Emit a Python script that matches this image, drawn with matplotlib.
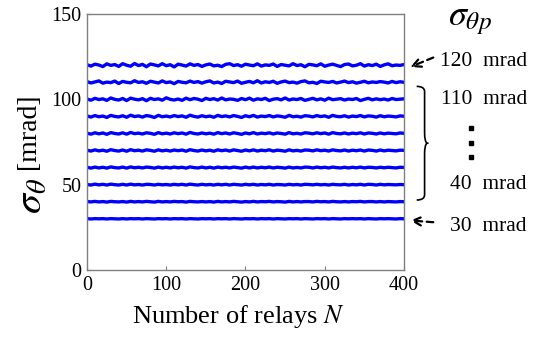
import numpy as np
import matplotlib
matplotlib.use("Agg")
import matplotlib.pyplot as plt
from matplotlib.path import Path
from matplotlib.patches import PathPatch

plt.rcParams['font.family'] = ['Liberation Serif', 'DejaVu Serif']
plt.rcParams['mathtext.fontset'] = 'stix'

# sigma_theta values (mrad) vs number of relays, one series per sigma_theta_p
s120 = [120.3,119.5,120.6,120.1,119.2,120.8,119.9,120.4,119.3,120.9,120.0,119.4,121.0,119.8,120.5,119.1,120.7,120.2,119.6,120.9,119.7,120.3,119.0,120.6,120.1,119.5,120.8,119.9,120.4,119.3,120.2,120.7,119.6,120.0,119.2,120.5,120.9,119.8,120.3,119.4,120.6,120.1,119.7,120.8,119.5,120.2,119.9,120.7,119.3,120.4,120.0,119.6,120.9,119.8,120.3,119.1,120.5,120.2,119.7,120.8,119.4,120.1,120.6,119.9,119.2,120.4,120.7,119.6,120.0,120.9,119.5,120.3,119.8,120.6,119.3,120.2,120.8,119.7,120.1,119.9,120.4]
s110 = [110.4,109.6,110.2,110.8,109.5,110.1,109.8,110.7,109.3,110.5,110.0,109.7,110.9,109.9,110.3,109.4,110.6,110.1,109.6,110.8,109.8,110.2,109.2,110.5,110.0,109.7,110.7,109.9,110.4,109.5,110.3,110.8,109.6,110.1,109.3,110.6,110.2,109.8,110.7,109.4,110.0,110.5,109.7,110.9,109.6,110.3,109.9,110.6,109.4,110.2,110.7,109.8,110.1,109.5,110.4,110.8,109.7,110.0,109.3,110.6,110.2,109.9,110.5,109.6,110.1,110.7,109.8,110.3,109.5,110.0,110.6,109.7,110.2,109.9,110.4,110.1,109.6,110.5,109.8,110.3,110.0]
s100 = [100.2,99.5,100.6,99.9,100.3,99.4,100.8,100.0,99.6,100.5,99.3,100.7,100.1,99.7,100.4,99.2,100.6,99.9,100.3,99.5,100.9,100.0,99.6,100.2,99.4,100.7,99.8,100.5,100.1,99.3,100.6,99.9,100.4,99.6,100.8,99.7,100.2,100.0,99.4,100.5,99.8,100.7,99.5,100.3,99.9,100.6,99.3,100.1,100.4,99.7,100.8,99.6,100.2,99.9,100.5,99.4,100.0,100.6,99.7,100.3,99.5,100.7,99.8,100.1,100.4,99.6,100.2,99.9,100.5,99.3,100.0,100.6,99.7,100.3,99.8,100.2,99.6,100.5,99.9,100.1,100.3]
s90 = [90.3,89.6,90.5,89.8,90.2,89.4,90.6,90.0,89.7,90.4,89.5,90.7,89.9,90.3,89.6,90.5,90.1,89.4,90.6,89.8,90.2,89.7,90.5,89.9,90.3,89.5,90.7,90.0,89.6,90.4,89.8,90.2,89.5,90.6,89.9,90.3,89.7,90.5,90.0,89.4,90.4,89.8,90.6,89.6,90.2,89.9,90.5,89.7,90.3,90.0,89.5,90.6,89.8,90.1,89.6,90.4,90.2,89.7,90.5,89.9,90.3,89.5,90.6,90.0,89.8,90.4,89.6,90.2,89.9,90.5,89.7,90.3,90.1,89.6,90.4,89.8,90.2,90.0,89.7,90.3,90.1]
s80 = [80.2,79.6,80.4,79.8,80.3,79.5,80.5,80.0,79.7,80.4,79.6,80.6,79.9,80.2,79.7,80.4,80.1,79.5,80.5,79.8,80.2,79.7,80.4,79.9,80.3,79.6,80.6,80.0,79.7,80.3,79.8,80.2,79.6,80.5,79.9,80.3,79.7,80.4,80.0,79.5,80.3,79.8,80.5,79.7,80.2,79.9,80.4,79.7,80.3,80.0,79.6,80.5,79.8,80.1,79.7,80.4,80.2,79.8,80.4,79.9,80.3,79.6,80.5,80.0,79.8,80.3,79.7,80.2,79.9,80.4,79.7,80.3,80.1,79.7,80.3,79.8,80.2,80.0,79.8,80.3,80.1]
s70 = [70.2,69.7,70.4,69.8,70.2,69.6,70.5,70.0,69.7,70.3,69.6,70.5,69.9,70.2,69.7,70.4,70.1,69.6,70.4,69.8,70.2,69.7,70.3,69.9,70.3,69.6,70.5,70.0,69.7,70.3,69.8,70.2,69.6,70.4,69.9,70.3,69.7,70.4,70.0,69.6,70.3,69.8,70.4,69.7,70.2,69.9,70.4,69.7,70.2,70.0,69.6,70.4,69.8,70.1,69.7,70.3,70.2,69.8,70.4,69.9,70.2,69.7,70.4,70.0,69.8,70.3,69.7,70.2,69.9,70.3,69.7,70.3,70.1,69.7,70.3,69.8,70.2,70.0,69.8,70.2,70.1]
s60 = [60.2,59.7,60.3,59.8,60.2,59.7,60.4,60.0,59.8,60.3,59.7,60.4,59.9,60.2,59.8,60.3,60.1,59.7,60.3,59.8,60.2,59.8,60.3,59.9,60.2,59.7,60.4,60.0,59.8,60.3,59.8,60.2,59.7,60.3,59.9,60.2,59.8,60.3,60.0,59.7,60.3,59.8,60.3,59.8,60.2,59.9,60.3,59.8,60.2,60.0,59.7,60.3,59.8,60.1,59.8,60.3,60.2,59.8,60.3,59.9,60.2,59.8,60.3,60.0,59.8,60.2,59.8,60.2,59.9,60.3,59.8,60.2,60.1,59.8,60.2,59.9,60.2,60.0,59.8,60.2,60.1]
s50 = [50.1,49.8,50.3,49.9,50.2,49.8,50.3,50.0,49.8,50.2,49.8,50.3,49.9,50.1,49.8,50.2,50.1,49.8,50.2,49.9,50.1,49.8,50.2,49.9,50.2,49.8,50.3,50.0,49.8,50.2,49.9,50.1,49.8,50.2,49.9,50.2,49.8,50.2,50.0,49.8,50.2,49.9,50.2,49.8,50.1,49.9,50.2,49.8,50.1,50.0,49.8,50.2,49.9,50.1,49.8,50.2,50.1,49.9,50.2,49.9,50.1,49.8,50.2,50.0,49.9,50.2,49.8,50.1,49.9,50.2,49.8,50.2,50.1,49.8,50.2,49.9,50.1,50.0,49.9,50.1,50.0]
s40 = [40.1,39.9,40.2,39.9,40.1,39.8,40.2,40.0,39.9,40.1,39.8,40.2,39.9,40.1,39.9,40.2,40.0,39.8,40.2,39.9,40.1,39.9,40.2,40.0,40.1,39.8,40.2,40.0,39.9,40.1,39.9,40.1,39.8,40.2,39.9,40.1,39.9,40.2,40.0,39.8,40.1,39.9,40.2,39.9,40.1,40.0,40.2,39.9,40.1,40.0,39.8,40.2,39.9,40.1,39.9,40.1,40.1,39.9,40.2,40.0,40.1,39.9,40.2,40.0,39.9,40.1,39.9,40.1,40.0,40.2,39.9,40.1,40.1,39.9,40.1,39.9,40.1,40.0,39.9,40.1,40.0]
s30 = [30.1,29.9,30.1,30.0,30.1,29.9,30.1,30.0,29.9,30.1,29.9,30.1,30.0,30.1,29.9,30.1,30.0,29.9,30.1,30.0,30.1,29.9,30.1,30.0,30.1,29.9,30.1,30.0,29.9,30.1,30.0,30.1,29.9,30.1,30.0,30.1,29.9,30.1,30.0,29.9,30.1,30.0,30.1,29.9,30.1,30.0,30.1,29.9,30.1,30.0,29.9,30.1,30.0,30.1,29.9,30.1,30.0,29.9,30.1,30.0,30.1,29.9,30.1,30.0,29.9,30.1,30.0,30.1,30.0,30.1,29.9,30.1,30.0,29.9,30.1,30.0,30.1,30.0,29.9,30.1,30.0]
series = [s120, s110, s100, s90, s80, s70, s60, s50, s40, s30]

x_ticks = [0, 100, 200, 300, 400]
y_ticks = [0, 50, 100, 150]
right_labels = ['120  mrad', '110  mrad', '40  mrad', '30  mrad']
right_levels = [120, 110, 40, 30]

fig = plt.figure(figsize=(5.38, 3.41), dpi=100)
ax = fig.add_axes([0.1617, 0.2082, 0.5892, 0.7507])

for s in series:
    xs = np.linspace(0, 400, len(s))
    ax.plot(xs, s, color='#0000ff', lw=2.4, solid_joinstyle='round')

ax.set_xlim(0, 400)
ax.set_ylim(0, 150)
ax.set_xticks(x_ticks)
ax.set_yticks(y_ticks)
ax.tick_params(direction='in', length=3, width=0.8, color='#808080', labelsize=14.5)
ax.tick_params(axis='x', pad=4)
ax.tick_params(axis='y', pad=4)
for sp in ax.spines.values():
    sp.set_color('#808080')
    sp.set_linewidth(1.0)

ax.set_xlabel('Number of relays $\\mathit{N}$', fontsize=19)
ax.xaxis.set_label_coords(0.476, -0.13)

# y label in two parts
fig.text(0.053, 0.616, '[mrad]', rotation=90, fontsize=20, ha='center', va='center')
fig.text(0.060, 0.425, '$\\sigma_\\theta$', rotation=90, fontsize=29, ha='center', va='center')

# right header
ax.text(1.14, 146, '$\\sigma_{\\theta p}$', transform=ax.get_yaxis_transform(), fontsize=26,
        ha='left', va='center', clip_on=False)

label_y = [122.4, 100, 50, 25.3]
for lbl, yy in zip(right_labels, label_y):
    ax.text(555, yy, lbl, fontsize=15.5, ha='right', va='center', clip_on=False)

# arrows for 120 and 30
for lvl, ty in [(120, 123.5), (30, 27)]:
    ax.annotate('', xy=(408, lvl - 1.0), xytext=(437, ty + 1.0),
                arrowprops=dict(arrowstyle='->', color='black', lw=1.6, linestyle=(0, (3, 2)),
                                mutation_scale=15, shrinkA=0, shrinkB=0),
                annotation_clip=False)

# curly brace spanning 110 .. 40
xb0, xb1 = 416, 429
ytop, ybot = 107.6, 41.0
ymid = (ytop + ybot) / 2
verts = [(xb0, ytop), (xb1 - 3, ytop), (xb1 - 3, ytop - 3), (xb1 - 3, ymid + 6),
         (xb1 - 3, ymid + 1), (xb1, ymid), (xb1 + 2, ymid),
         (xb1, ymid), (xb1 - 3, ymid - 1), (xb1 - 3, ymid - 6),
         (xb1 - 3, ybot + 3), (xb1 - 3, ybot), (xb0, ybot)]
codes = [Path.MOVETO, Path.CURVE3, Path.CURVE3, Path.LINETO, Path.CURVE3, Path.CURVE3, Path.LINETO,
         Path.MOVETO, Path.CURVE3, Path.CURVE3, Path.LINETO, Path.CURVE3, Path.CURVE3]
ax.add_patch(PathPatch(Path(verts, codes), fill=False, lw=1.2, color='black', clip_on=False))

# vertical ellipsis dots
for yd in [83.5, 74.7, 66.5]:
    ax.plot([484.5], [yd], marker='s', ms=3.5, color='black', clip_on=False)

fig.savefig('out.png', dpi=100)
